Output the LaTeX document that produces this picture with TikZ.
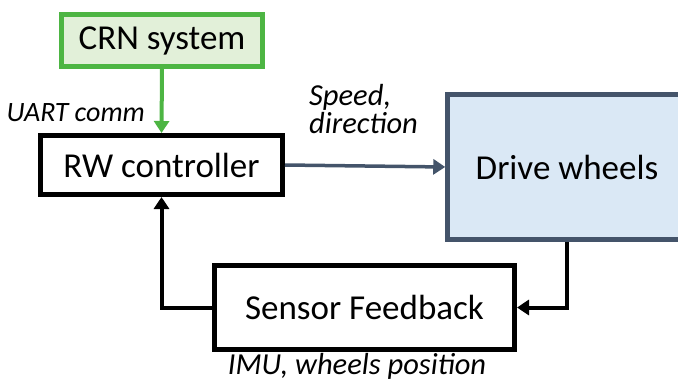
\documentclass[tikz,border=0pt]{standalone}
\usepackage{fontspec}
\setmainfont{Carlito}
\usetikzlibrary{arrows.meta}
\definecolor{crngreen}{HTML}{4DB543}
\definecolor{crnfill}{HTML}{E2F0D9}
\definecolor{slate}{HTML}{44546A}
\definecolor{drivefill}{HTML}{DAE8F5}
\tikzset{
  blockbox/.style={draw=black, line width=5pt, fill=white, inner sep=0pt, font=\fontsize{35}{40}\selectfont},
  lbl/.style={font=\fontsize{30.5}{28}\selectfont\itshape, inner sep=0pt},
  conn/.style={line width=4pt, -{Triangle[width=15pt,length=12pt]}},
}
\begin{document}
\begin{tikzpicture}[x=1pt,y=-1pt]
\useasboundingbox (0,0) rectangle (678,383);
\clip (0,0) rectangle (678,383);
\node[blockbox, draw=crngreen, fill=crnfill, minimum width=201pt, minimum height=52pt] (crn) at (162,40.5) {CRN system};
\node[blockbox, minimum width=242pt, minimum height=59pt] (rw) at (161.5,165) {RW controller};
\node[blockbox, draw=slate, line width=4.5pt, fill=drivefill, minimum width=239pt, minimum height=145pt] (drive) at (567,167) {Drive wheels};
\node[blockbox, minimum width=300pt, minimum height=84pt] (sensor) at (364.5,307.5) {Sensor Feedback};
\draw[conn, draw=crngreen, fill=crngreen] (crn.south) -- (rw.north);
\draw[conn, draw=slate, fill=slate, line width=3.5pt] (rw.east) -- (drive.west);
\draw[conn] (drive.south) |- (sensor.east);
\draw[conn] (sensor.west) -| (rw.south);
\node[lbl, font=\fontsize{28}{30}\selectfont\itshape, anchor=east] (uart) at (145,113) {UART comm};
\node[lbl, anchor=west, align=left] (speed) at (309,109) {Speed,\\direction};
\node[lbl] (imu) at (357,366) {IMU, wheels position};
\end{tikzpicture}
\end{document}
